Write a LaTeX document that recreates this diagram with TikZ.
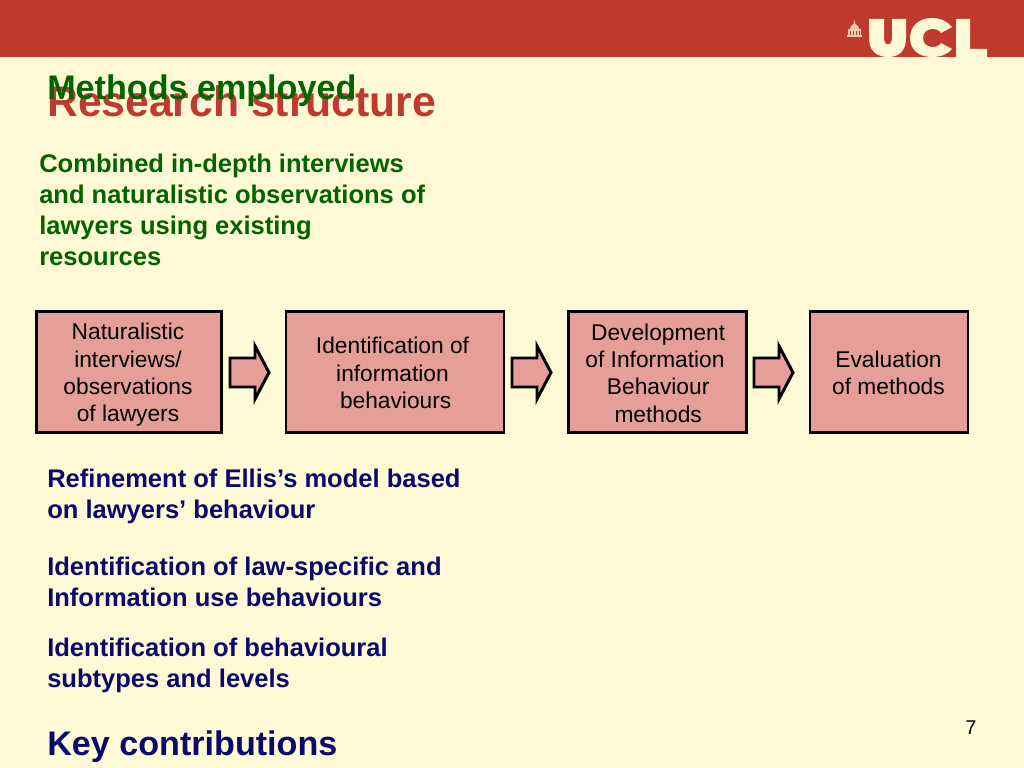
\documentclass[tikz,border=0pt]{standalone}
\usepackage{fontspec}
\setmainfont{Liberation Sans}
\definecolor{bgc}{HTML}{FFF9D5}
\definecolor{barc}{HTML}{C0392F}
\definecolor{boxc}{HTML}{E59F98}
\definecolor{greenc}{HTML}{006400}
\definecolor{navyc}{HTML}{0A0A6E}
\definecolor{iconc}{HTML}{F3C9B0}
\tikzset{
  stage/.style={draw=black,line width=2.1pt,fill=boxc,minimum height=121*0.703125bp,inner sep=0pt},
  stagetext/.style={align=center,inner sep=0pt,text=black,font=\fontsize{16bp}{19.2bp}\selectfont},
  flow/.style={draw=black,line width=2.1pt,fill=boxc,line join=miter},
  txt/.style={anchor=north west,inner sep=0pt,align=left,font=\fontsize{17.95bp}{21.65bp}\selectfont\bfseries}
}
\begin{document}
\begin{tikzpicture}[x=0.703125bp,y=-0.703125bp]
\useasboundingbox (0,0) rectangle (1024,768);
\fill[bgc] (0,0) rectangle (1024,768);
\fill[barc] (0,0) rectangle (1024,57);
% UCL logo
\fill[bgc] (869,19) -- (884,19) -- (884,38) .. controls (884,47) and (892,47) .. (892,38) -- (892,19) -- (906,19) -- (906,38) .. controls (906,50) and (900,57) .. (888,57) .. controls (876,57) and (869,50) .. (869,38) -- cycle;
\fill[bgc] (952,27) -- (941,33) .. controls (938,27) and (923,27) .. (923,38) .. controls (923,49) and (938,49) .. (941,43) -- (952,49) .. controls (948,54) and (941,57) .. (932,57) .. controls (918,57) and (910,49) .. (910,38) .. controls (910,27) and (918,18) .. (932,18) .. controls (941,18) and (948,22) .. (952,27) -- cycle;
\fill[bgc] (956,19) -- (970,19) -- (970,49) -- (987,49) -- (987,57) -- (956,57) -- cycle;
% building icon
\fill[iconc] (854.5,20) -- (855.5,24) .. controls (858,25) and (859,27) .. (859,29) -- (850,29) .. controls (850,27) and (851,25) .. (853.5,24) -- cycle;
\fill[iconc] (848,29.5) rectangle (861,31);
\fill[iconc] (848,31) rectangle (849.5,35);
\fill[iconc] (851,31) rectangle (852.5,35);
\fill[iconc] (854,31) rectangle (855.5,35);
\fill[iconc] (857,31) rectangle (858.5,35);
\fill[iconc] (859.7,31) rectangle (861,35);
\fill[iconc] (847,35) rectangle (862,37);
% titles
\node[anchor=base west,inner sep=0pt,text=barc,font=\fontsize{30bp}{34bp}\selectfont\bfseries] (title) at (47,117) {Research structure};
\node[anchor=base west,inner sep=0pt,text=greenc,font=\fontsize{24bp}{28bp}\selectfont\bfseries] (method) at (47,100) {Methods employed};
\node[txt,text=greenc] (comb) at (39,154) {Combined in-depth interviews\\and naturalistic observations of\\lawyers using existing\\resources};
% stages
\node[stage,minimum width=185*0.703125bp] (s1) at (129,372) {};
\node[stage,minimum width=218*0.703125bp] (s2) at (395,372) {};
\node[stage,minimum width=178*0.703125bp] (s3) at (657.5,372) {};
\node[stage,minimum width=158*0.703125bp] (s4) at (889,372) {};
\node[stagetext] (t1) at (128,375) {Naturalistic\\interviews/\\observations\\of lawyers};
\node[stagetext] (t2) at (392.5,373) {Identification of\\information\\\ behaviours};
\node[stagetext] (t3) at (655,373) {\ Development\\of Information\ \\\ Behaviour\\\ methods};
\node[stagetext] (t4) at (888.5,373) {Evaluation\ \\of methods};
% block arrows
\foreach \xx in {0,282,524}{
  \draw[flow] ({\xx+230},358) -- ({\xx+255},358) -- ({\xx+255},346) -- ({\xx+269},372.5) -- ({\xx+255},399) -- ({\xx+255},387) -- ({\xx+230},387) -- cycle;
}
\node[txt,text=navyc] (r1) at (47,469) {Refinement of Ellis’s model based\\on lawyers’ behaviour};
\node[txt,text=navyc] (r2) at (47,557) {Identification of law-specific and\\Information use behaviours};
\node[txt,text=navyc] (r3) at (47,638) {Identification of behavioural\\subtypes and levels};
\node[anchor=base west,inner sep=0pt,text=navyc,font=\fontsize{24bp}{28bp}\selectfont\bfseries] (key) at (47,755) {Key contributions};
\node[anchor=base,inner sep=0pt,text=black,font=\fontsize{14bp}{16bp}\selectfont] (num) at (971,734) {7};
\end{tikzpicture}
\end{document}
